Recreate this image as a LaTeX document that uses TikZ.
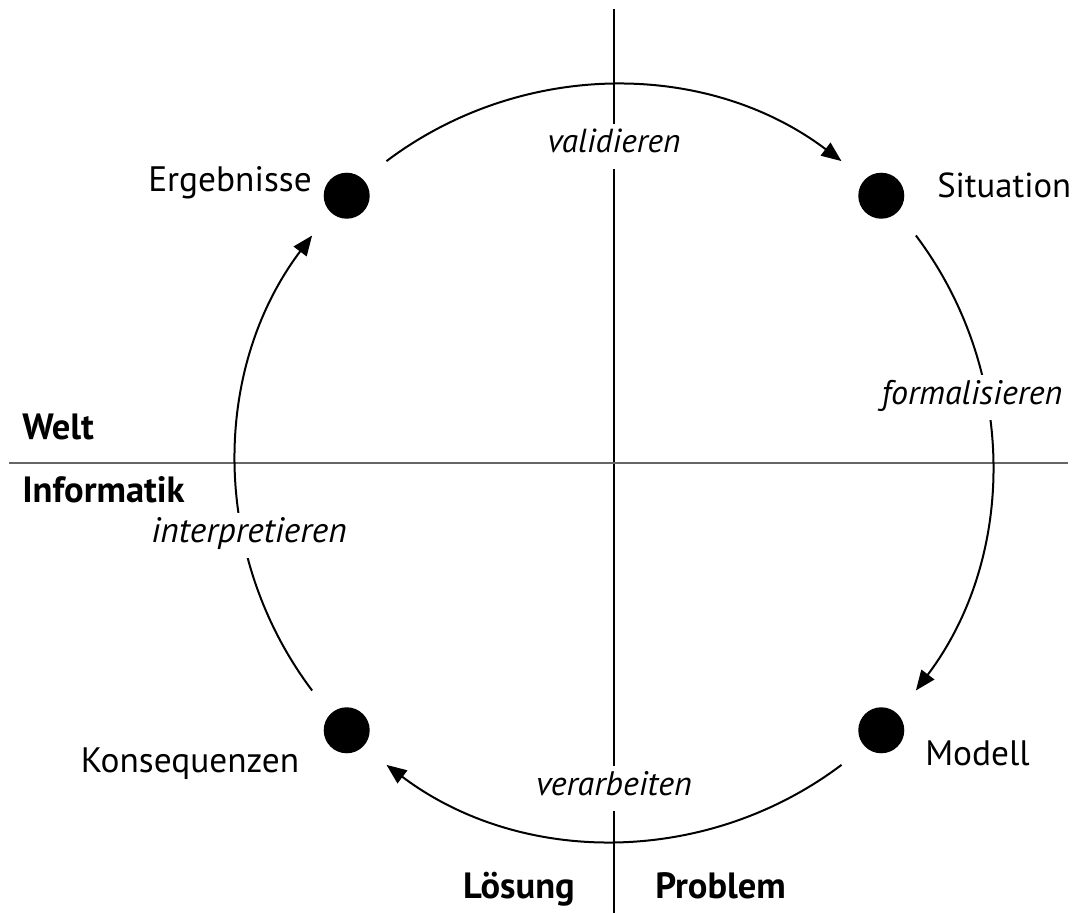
\documentclass[tikz,border=0pt]{standalone}
\usepackage{fontspec}
\setmainfont{PT Sans}
\usetikzlibrary{arrows.meta,calc}
\begin{document}
\begin{tikzpicture}[x=0.75pt,y=-0.75pt,
  dot/.style={circle,fill=black,inner sep=0pt,minimum size=34.5pt},
  cyclearc/.style={line width=1.5pt,-{Triangle[length=15pt,width=12pt]}},
  axisv/.style={line width=0.9pt,black},
  axish/.style={line width=1.3pt,black!60},
  lbl/.style={anchor=base,inner sep=0pt,font=\fontsize{26.5}{30}\selectfont},
  act/.style={anchor=base,fill=white,inner xsep=2pt,inner ysep=0pt,text height=22pt,text depth=12pt,font=\fontsize{25.5}{30}\selectfont\itshape},
  side/.style={inner sep=0pt,font=\fontsize{27.4}{32}\selectfont\bfseries}
]
\useasboundingbox (0,0) rectangle (1076,913);
% axes
\coordinate (vt) at (614,9);
\coordinate (vb) at (614,913);
\coordinate (hl) at (9,463);
\coordinate (hr) at (1068,463);
\draw[axisv] (vt) -- (vb);
\draw[axish] (hl) -- (hr);
% centre of the cycle
\coordinate (O) at (614,463);
% dots
\node[dot] (erg) at ($(O)+(-135:378)$) {};
\node[dot] (sit) at ($(O)+(-45:378)$) {};
\node[dot] (mod) at ($(O)+(45:378)$) {};
\node[dot] (kon) at ($(O)+(135:378)$) {};
% arc start points
\coordinate (a1) at ($(O)+(-127:378)$);
\coordinate (a2) at ($(O)+(-37:378)$);
\coordinate (a3) at ($(O)+(53:378)$);
\coordinate (a4) at ($(O)+(143:378)$);
\draw[cyclearc] (a1) arc[start angle=-127,end angle=-53,radius=378];
\draw[cyclearc] (a2) arc[start angle=-37,end angle=37,radius=378];
\draw[cyclearc] (a3) arc[start angle=53,end angle=127,radius=378];
\draw[cyclearc] (a4) arc[start angle=143,end angle=217,radius=378];
% state labels
\node[lbl] (terg) at (230,192) {Ergebnisse};
\node[lbl,anchor=base west,font=\fontsize{26}{30}\selectfont] (tsit) at (937,198) {Situation};
\node[lbl,anchor=base west] (tmod) at (925,765) {Modell};
\node[lbl] (tkon) at (190,772) {Konsequenzen};
% activity labels
\node[act,font=\fontsize{25}{30}\selectfont\itshape] (val) at (614,153) {validieren};
\node[act] (for) at (972,404) {formalisieren};
\node[act] (ver) at (614,795) {verarbeiten};
\node[act,font=\fontsize{26.5}{30}\selectfont\itshape] (int) at (249,542) {interpretieren};
% side labels
\node[side,anchor=base west] (welt) at (22,439) {Welt};
\node[side,anchor=base west] (inf) at (22,502) {Informatik};
\node[side,anchor=base east] (loe) at (575,898) {Lösung};
\node[side,anchor=base west] (pro) at (655,898) {Problem};
\end{tikzpicture}
\end{document}
